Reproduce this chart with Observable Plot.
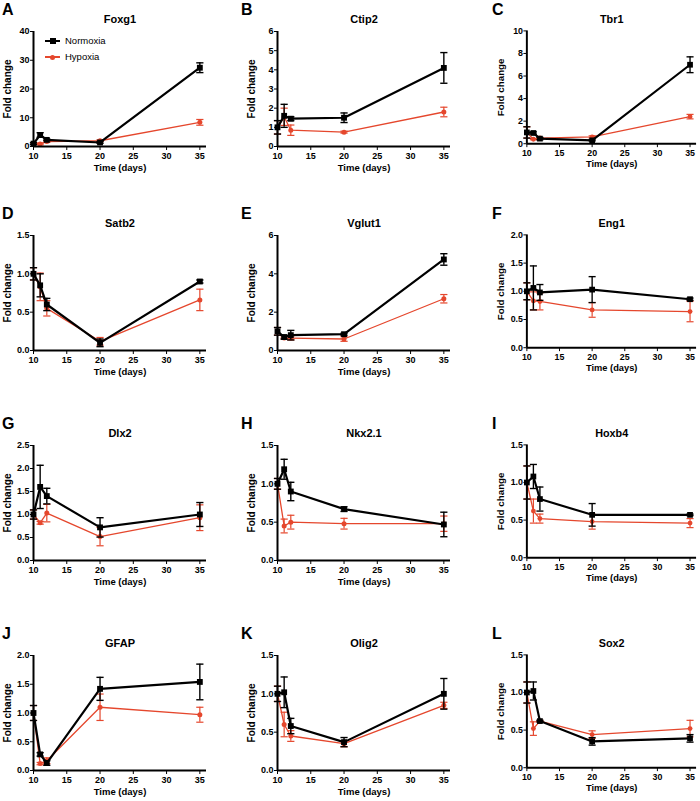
<!DOCTYPE html>
<html><head><meta charset="utf-8">
<script src="https://cdn.jsdelivr.net/npm/d3@7"></script>
<script src="https://cdn.jsdelivr.net/npm/@observablehq/plot@0.6"></script>
<style>
body{margin:0;background:#fff;font-family:"Liberation Sans",Arial,Helvetica,sans-serif;}
#fig{position:relative;width:700px;height:801px;overflow:hidden;background:#fff;}
.panel{position:absolute;}
.letter{position:absolute;font-weight:bold;font-size:16px;line-height:16px;color:#000;}
.leg{position:absolute;font-size:9.5px;line-height:10px;color:#000;}
</style></head><body><div id="fig"></div>
<script>
const days = [10, 11, 12, 20, 35];
const genes = ["Foxg1","Ctip2","Tbr1","Satb2","Vglut1","Eng1","Dlx2","Nkx2.1","Hoxb4","GFAP","Olig2","Sox2"];
const panelLetters = ["A","B","C","D","E","F","G","H","I","J","K","L"];
const yMax = [40, 6, 10, 1.5, 6, 2, 2.5, 1.5, 1.5, 2, 1.5, 1.5];
const yStep = [10, 1, 2, 0.5, 2, 0.5, 0.5, 0.5, 0.5, 0.5, 0.5, 0.5];
const yDecimals = [0, 0, 0, 1, 0, 1, 1, 1, 1, 1, 1, 1];
const groups = ["Normoxia", "Hypoxia"];
const groupColors = ["#000000", "#e5472d"];

const normoxiaMean = [
  [1.0, 4.0, 2.3, 1.4, 27.4],
  [1.0, 1.6, 1.45, 1.5, 4.1],
  [1.0, 0.95, 0.45, 0.3, 7.0],
  [1.0, 0.85, 0.6, 0.1, 0.9],
  [1.0, 0.7, 0.8, 0.85, 4.75],
  [1.0, 1.06, 0.98, 1.03, 0.86],
  [1.0, 1.6, 1.4, 0.72, 1.0],
  [1.0, 1.19, 0.9, 0.67, 0.47],
  [1.0, 1.08, 0.78, 0.57, 0.57],
  [1.0, 0.28, 0.13, 1.42, 1.54],
  [1.0, 1.02, 0.58, 0.37, 1.0],
  [1.0, 1.02, 0.62, 0.35, 0.39]
];
const normoxiaErr = [
  [0.3, 0.8, 0.3, 0.3, 1.7],
  [0.35, 0.6, 0.1, 0.25, 0.8],
  [0.5, 0.1, 0.1, 0.05, 0.7],
  [0.08, 0.15, 0.08, 0.05, 0.02],
  [0.2, 0.1, 0.25, 0.05, 0.3],
  [0.15, 0.39, 0.14, 0.23, 0.02],
  [0.1, 0.47, 0.17, 0.21, 0.26],
  [0.07, 0.13, 0.12, 0.03, 0.16],
  [0.22, 0.16, 0.16, 0.15, 0.01],
  [0.13, 0.03, 0.04, 0.2, 0.31],
  [0.1, 0.2, 0.1, 0.06, 0.2],
  [0.14, 0.12, 0.01, 0.05, 0.05]
];
const hypoxiaMean = [
  [1.0, 0.9, 1.7, 2.0, 8.4],
  [1.0, 1.55, 0.85, 0.75, 1.8],
  [1.0, 0.4, 0.5, 0.6, 2.4],
  [1.0, 0.83, 0.55, 0.12, 0.66],
  [1.0, 0.65, 0.65, 0.6, 2.7],
  [1.0, 0.83, 0.82, 0.67, 0.64],
  [1.0, 0.82, 1.03, 0.52, 0.93],
  [1.0, 0.45, 0.5, 0.48, 0.48],
  [1.0, 0.62, 0.52, 0.48, 0.46],
  [1.0, 0.12, 0.17, 1.1, 0.97],
  [1.0, 0.6, 0.45, 0.35, 0.85],
  [1.0, 0.52, 0.62, 0.44, 0.52]
];
const hypoxiaErr = [
  [0.3, 0.3, 0.3, 0.3, 1.0],
  [0.35, 0.45, 0.27, 0.05, 0.25],
  [0.5, 0.05, 0.05, 0.1, 0.2],
  [0.08, 0.18, 0.1, 0.05, 0.14],
  [0.2, 0.05, 0.1, 0.12, 0.22],
  [0.15, 0.16, 0.15, 0.13, 0.18],
  [0.1, 0.03, 0.19, 0.2, 0.28],
  [0.07, 0.09, 0.09, 0.07, 0.1],
  [0.22, 0.16, 0.06, 0.1, 0.06],
  [0.13, 0.02, 0.05, 0.23, 0.13],
  [0.1, 0.16, 0.07, 0.04, 0.04],
  [0.14, 0.09, 0.01, 0.05, 0.11]
];
const xTicks = [10, 15, 20, 25, 30, 35];
const xLabel = "Time (days)";
const yLabel = "Fold change";

// layout
const colLeft = [0, 244, 494];
const rowTop = [0, 204, 414, 624];
const letterX = [2, 241, 492];
const FONT = "'Liberation Sans', Arial, Helvetica, sans-serif";

const cap = {draw(ctx) { ctx.moveTo(-3.6, 0); ctx.lineTo(3.6, 0); }};

const fig = document.getElementById("fig");

genes.forEach((gene, i) => {
  const r = Math.floor(i / 3), c = i % 3;
  const norm = days.map((d, j) => ({day: d, mean: normoxiaMean[i][j], err: normoxiaErr[i][j]}));
  const hyp = days.map((d, j) => ({day: d, mean: hypoxiaMean[i][j], err: hypoxiaErr[i][j]}));
  const yTicks = d3.range(0, yMax[i] + 1e-9, yStep[i]);
  const fmt = yDecimals[i] ? d3.format(".1f") : d3.format("d");
  const lo = d => d.mean - d.err, hi = d => d.mean + d.err;
  const red = groupColors[1], blk = groupColors[0];
  const chart = Plot.plot({
    width: 210, height: 186,
    marginLeft: 33, marginRight: 4, marginTop: 31, marginBottom: 40,
    style: {fontFamily: FONT, fontSize: "9px", fontWeight: "bold", background: "transparent", overflow: "visible", color: "#000"},
    x: {domain: [10, 36], ticks: xTicks, tickSize: 4, tickPadding: 2, label: null, tickFormat: d3.format("d")},
    y: {domain: [0, yMax[i]], ticks: yTicks, tickSize: 3, tickPadding: 1, label: null, tickFormat: fmt},
    marks: [
      // hypoxia
      Plot.ruleX(hyp, {x: "day", y1: lo, y2: hi, stroke: red, strokeWidth: 1.2}),
      Plot.dot(hyp, {x: "day", y: hi, symbol: cap, fill: "none", stroke: red, strokeWidth: 1.2}),
      Plot.dot(hyp, {x: "day", y: lo, symbol: cap, fill: "none", stroke: red, strokeWidth: 1.2}),
      Plot.line(hyp, {x: "day", y: "mean", stroke: red, strokeWidth: 1.3}),
      Plot.dot(hyp, {x: "day", y: "mean", r: 2.5, fill: red, stroke: "none"}),
      // normoxia
      Plot.ruleX(norm, {x: "day", y1: lo, y2: hi, stroke: blk, strokeWidth: 1.4}),
      Plot.dot(norm, {x: "day", y: hi, symbol: cap, fill: "none", stroke: blk, strokeWidth: 1.4}),
      Plot.dot(norm, {x: "day", y: lo, symbol: cap, fill: "none", stroke: blk, strokeWidth: 1.4}),
      Plot.line(norm, {x: "day", y: "mean", stroke: blk, strokeWidth: 2.2}),
      Plot.dot(norm, {x: "day", y: "mean", r: 3.3, symbol: "square", fill: blk, stroke: "none"}),
      // axis lines
      Plot.ruleY([0], {stroke: "#000", strokeWidth: 2}),
      Plot.ruleX([10], {stroke: "#000", strokeWidth: 2}),
      // labels
      Plot.text([gene], {text: d => d, frameAnchor: "top", dy: -16, fontSize: 11, fontWeight: "bold"}),
      Plot.text([xLabel], {text: d => d, frameAnchor: "bottom", dy: 24, fontSize: 9.5, fontWeight: "bold"}),
      Plot.text([yLabel], {text: d => d, frameAnchor: "left", textAnchor: "middle", dx: -26, rotate: -90, fontSize: 10, fontWeight: "bold"})
    ]
  });
  const div = document.createElement("div");
  div.className = "panel";
  div.style.left = colLeft[c] + "px";
  div.style.top = rowTop[r] + "px";
  div.appendChild(chart);
  fig.appendChild(div);

  const L = document.createElement("div");
  L.className = "letter";
  L.textContent = panelLetters[i];
  L.style.left = letterX[c] + "px";
  L.style.top = (rowTop[r] + 2) + "px";
  fig.appendChild(L);
});

// legend (panel A)
function legendItem(label, color, y, isSquare) {
  const line = document.createElement("div");
  line.style.cssText = `position:absolute;left:45px;top:${y - (isSquare ? 1 : 0.6)}px;width:15px;height:${isSquare ? 2 : 1.3}px;background:${color};`;
  fig.appendChild(line);
  const m = document.createElement("div");
  const s = isSquare ? 6 : 5;
  m.style.cssText = `position:absolute;left:${52.5 - s / 2}px;top:${y - s / 2}px;width:${s}px;height:${s}px;background:${color};border-radius:${isSquare ? 0 : 50}%;`;
  fig.appendChild(m);
  const t = document.createElement("div");
  t.className = "leg";
  t.textContent = label;
  t.style.left = "65px";
  t.style.top = (y - 5.5) + "px";
  fig.appendChild(t);
}
legendItem(groups[0], groupColors[0], 41, true);
legendItem(groups[1], groupColors[1], 57, false);
</script>
</body></html>
